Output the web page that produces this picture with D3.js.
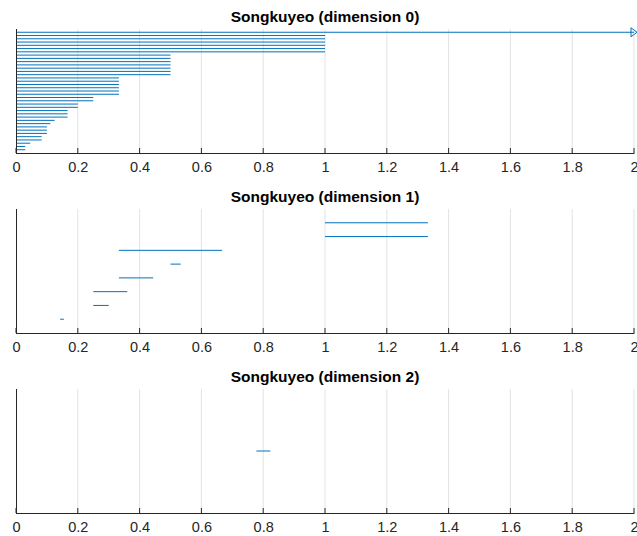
<!DOCTYPE html>
<html>
<head>
<meta charset="utf-8">
<script src="https://cdn.jsdelivr.net/npm/d3@7"></script>
<style>
  html, body { margin: 0; padding: 0; background: #fff; }
  svg { display: block; }
</style>
</head>
<body>
<svg id="chart" width="637" height="536"></svg>
<script>
// Data: persistence barcodes (birth, death); death = Infinity for unbounded bars
const titles = ["Songkuyeo (dimension 0)", "Songkuyeo (dimension 1)", "Songkuyeo (dimension 2)"];
const xTicks = [0, 0.2, 0.4, 0.6, 0.8, 1, 1.2, 1.4, 1.6, 1.8, 2];
const xTickLabels = ["0", "0.2", "0.4", "0.6", "0.8", "1", "1.2", "1.4", "1.6", "1.8", "2"];

// bottom-to-top order
const dim0Births = Array(37).fill(0);
const dim0Deaths = [0.03, 0.03, 0.046, 0.083, 0.083, 0.1, 0.1, 0.1, 0.111, 0.125,
  0.167, 0.167, 0.167, 0.2, 0.2, 0.25, 0.25,
  0.333, 0.333, 0.333, 0.333, 0.333, 0.333,
  0.5, 0.5, 0.5, 0.5, 0.5, 0.5, 0.5,
  1, 1, 1, 1, 1, 1, Infinity];

const dim1Births = [0.143, 0.25, 0.25, 0.333, 0.5, 0.333, 1, 1];
const dim1Deaths = [0.155, 0.3, 0.36, 0.444, 0.533, 0.667, 1.333, 1.333];

const dim2Births = [0.778];
const dim2Deaths = [0.823];

const panels = [
  {births: dim0Births, deaths: dim0Deaths},
  {births: dim1Births, deaths: dim1Deaths},
  {births: dim2Births, deaths: dim2Deaths}
];

const svg = d3.select("#chart");
const left = 16, right = 634;
const tops = [29, 209, 389];
const plotH = 124;
const color = "#0072BD";
const font = "'Liberation Sans', Arial, Helvetica, sans-serif";
const xMax = 2;

const x = d3.scaleLinear().domain([0, 2]).range([left, right]);

panels.forEach((p, k) => {
  const top = tops[k], bottom = top + plotH;
  const n = p.births.length;
  const y = d3.scaleLinear().domain([0, n + 1]).range([bottom, top]);
  const g = svg.append("g");

  // grid
  g.selectAll("line.grid").data(xTicks.slice(1)).enter().append("line")
    .attr("x1", d => x(d)).attr("x2", d => x(d))
    .attr("y1", top).attr("y2", bottom)
    .attr("stroke", "#e3e3e3").attr("stroke-width", 1);

  // bars
  const bars = p.births.map((b, i) => ({b, d: p.deaths[i], i: i + 1}));
  g.selectAll("line.bar").data(bars).enter().append("line")
    .attr("x1", d => x(d.b))
    .attr("x2", d => x(isFinite(d.d) ? d.d : xMax))
    .attr("y1", d => y(d.i)).attr("y2", d => y(d.i))
    .attr("stroke", color).attr("stroke-width", 1);

  // arrow markers for infinite bars
  bars.filter(d => !isFinite(d.d)).forEach(d => {
    const cx = x(xMax), cy = y(d.i);
    g.append("path")
      .attr("d", `M${cx - 3},${cy - 4.5}L${cx + 3},${cy}L${cx - 3},${cy + 4.5}Z`)
      .attr("fill", "none").attr("stroke", color).attr("stroke-width", 1);
  });

  // x axis
  const axis = d3.axisBottom(x).tickValues(xTicks)
    .tickFormat((d, i) => xTickLabels[i]).tickSize(0).tickPadding(9);
  const ag = g.append("g").attr("transform", `translate(0,${bottom})`).call(axis);
  ag.select(".domain").remove();
  ag.selectAll("text").attr("font-family", font).attr("font-size", 14.5).attr("fill", "#262626");
  // inward ticks
  g.selectAll("line.tick").data(xTicks).enter().append("line")
    .attr("x1", d => x(d)).attr("x2", d => x(d))
    .attr("y1", bottom).attr("y2", bottom - 5)
    .attr("stroke", "#262626").attr("stroke-width", 1);
  // axis lines
  g.append("line").attr("x1", left).attr("x2", right + 0.5)
    .attr("y1", bottom + 0.5).attr("y2", bottom + 0.5)
    .attr("stroke", "#262626").attr("stroke-width", 1);
  g.append("line").attr("x1", left + 0.5).attr("x2", left + 0.5)
    .attr("y1", top).attr("y2", bottom + 0.5)
    .attr("stroke", "#262626").attr("stroke-width", 1);

  // title
  g.append("text").attr("x", (left + right) / 2).attr("y", top - 7)
    .attr("text-anchor", "middle").attr("font-family", font)
    .attr("font-size", 15.5).attr("font-weight", "bold").attr("fill", "#000")
    .text(titles[k]);
});
</script>
</body>
</html>
